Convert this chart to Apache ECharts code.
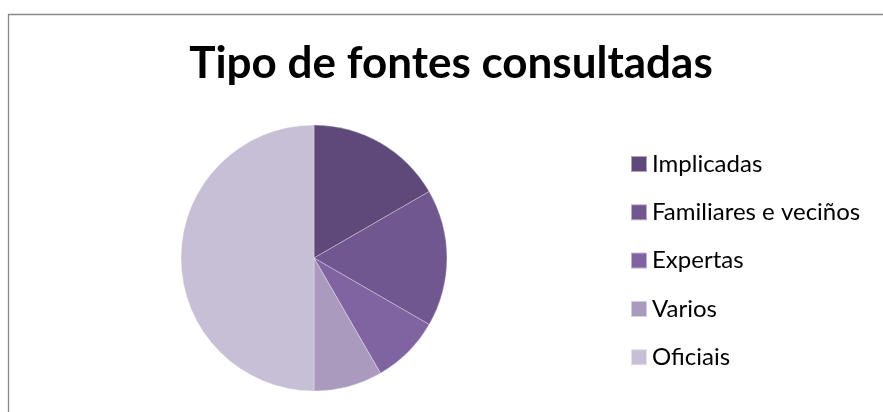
<!DOCTYPE html>
<html>
<head>
<meta charset="utf-8">
<script src="https://cdn.jsdelivr.net/npm/echarts@6/dist/echarts.min.js"></script>
<style>
html, body { margin: 0; padding: 0; background: #fff; }
#chart { width: 883px; height: 412px; }
</style>
</head>
<body>
<div id="chart"></div>
<script>
// datos do gráfico
var categories = ['Implicadas', 'Familiares e veciños', 'Expertas', 'Varios', 'Oficiais'];
var values = [2, 2, 1, 1, 6];
var colors = ['#5F497A', '#705790', '#8064A2', '#AA9BBE', '#C7BFD6'];

var chart = echarts.init(document.getElementById('chart'));

chart.setOption({
    animation: false,
    color: colors,
    title: {
        text: 'Tipo de fontes consultadas',
        left: 446,
        textAlign: 'center',
        top: 37,
        textStyle: {
            fontFamily: 'Lato',
            fontWeight: 'bold',
            fontSize: 44,
            color: '#000'
        }
    },
    legend: {
        orient: 'vertical',
        left: 625,
        top: 147,
        padding: 5,
        itemWidth: 16,
        itemHeight: 16,
        itemGap: 24.3,
        icon: 'rect',
        data: categories,
        textStyle: {
            fontFamily: 'Lato',
            fontSize: 24,
            color: '#000'
        }
    },
    // marco do gráfico
    graphic: [
        { type: 'line', shape: { x1: 8, y1: 14.5, x2: 883, y2: 14.5 }, style: { stroke: '#888', lineWidth: 1.3 } },
        { type: 'line', shape: { x1: 8.5, y1: 14, x2: 8.5, y2: 412 }, style: { stroke: '#888', lineWidth: 1.3 } }
    ],
    series: [
        {
            type: 'pie',
            center: [314, 258],
            radius: 133,
            startAngle: 90,
            clockwise: true,
            label: { show: false },
            labelLine: { show: false },
            itemStyle: { borderColor: 'rgba(255,255,255,0.5)', borderWidth: 0.6 },
            emphasis: { disabled: true },
            data: categories.map(function (name, i) {
                return { name: name, value: values[i] };
            })
        }
    ]
});
</script>
</body>
</html>
